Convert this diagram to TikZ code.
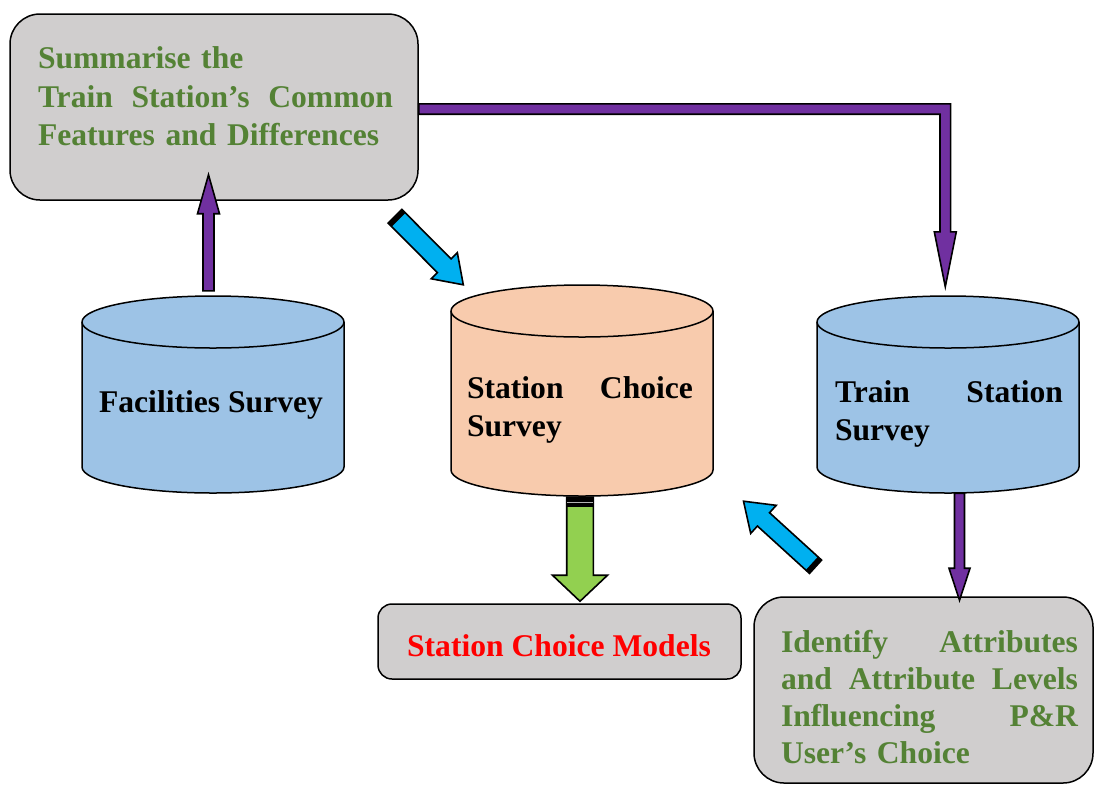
\documentclass[tikz,border=0pt]{standalone}
\usepackage{fontspec}
\setmainfont{Liberation Serif}
\usetikzlibrary{calc}
\definecolor{boxgray}{HTML}{D0CECE}
\definecolor{txtgreen}{HTML}{548235}
\definecolor{cylblue}{HTML}{9DC3E6}
\definecolor{cylpeach}{HTML}{F8CBAD}
\definecolor{arrpurple}{HTML}{7030A0}
\definecolor{arrcyan}{HTML}{00B0F0}
\definecolor{arrgreen}{HTML}{92D050}
\tikzset{
  graybox/.style={draw=black, line width=1.5pt, fill=boxgray, inner sep=0pt},
  cylarea/.style={inner sep=0pt},
  cylline/.style={draw=black, line width=1.5pt},
  lbl/.style={font=\fontsize{31.6}{38.5}\selectfont\bfseries, inner sep=0pt},
  purplearrow/.style={draw=black, line width=1.6pt, fill=arrpurple, line join=miter},
  cyanarrow/.style={draw=black, line width=1.6pt, fill=arrcyan, line join=miter},
  greenarrow/.style={draw=black, line width=1.6pt, fill=arrgreen, line join=miter},
}
% block arrow: #1 from, #2 to, #3 shaft half width, #4 head half width, #5 head length, #6 style
\newcommand\blockarrow[6]{%
  \coordinate (ba-n) at ($(#2)!#5!(#1)$);
  \path[#6] ($(#1)!#3!90:(#2)$) -- ($(ba-n)!#3!90:(#2)$) -- ($(ba-n)!#4!90:(#2)$)
    -- (#2) -- ($(ba-n)!#4!-90:(#2)$) -- ($(ba-n)!#3!-90:(#2)$)
    -- ($(#1)!#3!-90:(#2)$) -- cycle;
}
% black cap at the tail: #1 from, #2 to, #3 half width, #4 length
\newcommand\arrowcap[4]{%
  \coordinate (cap-c) at ($(#1)!#4!(#2)$);
  \fill[black] ($(#1)!#3!90:(#2)$) -- ($(cap-c)!#3!90:(#2)$)
    -- ($(cap-c)!#3!-90:(#2)$) -- ($(#1)!#3!-90:(#2)$) -- cycle;
}
\begin{document}
\begin{tikzpicture}[x=1pt,y=-1pt]
\useasboundingbox (0,0) rectangle (1094,785);

% boxes
\node[graybox, rounded corners=30pt, minimum width=408pt, minimum height=186pt] (sum) at (214,107) {};
\node[graybox, rounded corners=14pt, minimum width=363pt, minimum height=75pt] (scm) at (559.5,641.5) {};
\node[graybox, rounded corners=30pt, minimum width=339pt, minimum height=186pt] (idn) at (923.5,690) {};

% cylinders (areas as nodes)
\node[cylarea, minimum width=262pt, minimum height=197pt] (fs) at (213,394.5) {};
\node[cylarea, minimum width=262pt, minimum height=211pt] (sc) at (582,390.5) {};
\node[cylarea, minimum width=262pt, minimum height=197pt] (ts) at (948,394.5) {};

% Facilities cylinder
\filldraw[cylline, fill=cylblue] (82,322) -- (82,467)
  arc[start angle=180, end angle=360, x radius=131pt, y radius=26pt] -- (344,322)
  arc[start angle=0, end angle=180, x radius=131pt, y radius=26pt] -- cycle;
\draw[cylline] (82,322) arc[start angle=180, end angle=360, x radius=131pt, y radius=26pt];
% Station choice cylinder
\filldraw[cylline, fill=cylpeach] (451,311) -- (451,470)
  arc[start angle=180, end angle=360, x radius=131pt, y radius=26pt] -- (713,311)
  arc[start angle=0, end angle=180, x radius=131pt, y radius=26pt] -- cycle;
\draw[cylline] (451,311) arc[start angle=180, end angle=360, x radius=131pt, y radius=26pt];
% Train station cylinder
\filldraw[cylline, fill=cylblue] (817,322) -- (817,467)
  arc[start angle=180, end angle=360, x radius=131pt, y radius=26pt] -- (1079,322)
  arc[start angle=0, end angle=180, x radius=131pt, y radius=26pt] -- cycle;
\draw[cylline] (817,322) arc[start angle=180, end angle=360, x radius=131pt, y radius=26pt];

% arrow end points
\coordinate (a1s) at ($(fs.north)+(-4.5,-5)$);
\coordinate (a1e) at ($(sum.south -| a1s)+(0,-26)$);
\coordinate (a2s) at ($(sum.east)+(0,2)$);
\coordinate (a2e) at ($(ts.north)+(-2.7,-9)$);
\coordinate (a2c) at (a2s -| a2e);
\coordinate (a3s) at ($(ts.south)+(11.5,0)$);
\coordinate (a3e) at ($(idn.north -| a3s)+(0,4)$);
\coordinate (a4s) at ($(sc.south)+(-2,1)$);
\coordinate (a4e) at ($(scm.north -| a4s)+(0,-2)$);
\coordinate (a5s) at ($(sum.south east)+(-23.8,15.5)$);
\coordinate (a5e) at ($(sc.north)+(-118.7,0)$);
\coordinate (a6s) at ($(idn.north west)+(62.3,-29.5)$);
\coordinate (a6e) at ($(sc.south east)+(30.3,5)$);

% purple arrows
\blockarrow{a1s}{a1e}{5.5pt}{11pt}{39pt}{purplearrow}
\path[purplearrow] ($(a2s)+(0,-5.2)$) -- ($(a2c)+(5.3,-5.2)$) -- ($(a2e)+(5.3,-55)$)
  -- ($(a2e)+(11,-55)$) -- (a2e) -- ($(a2e)+(-11,-55)$) -- ($(a2e)+(-5.3,-55)$)
  -- ($(a2c)+(-5.3,5.2)$) -- ($(a2s)+(0,5.2)$) -- cycle;
\blockarrow{a3s}{a3e}{5pt}{10.5pt}{32pt}{purplearrow}

% green arrow
\blockarrow{a4s}{a4e}{13.3pt}{27.5pt}{26pt}{greenarrow}
\arrowcap{a4s}{a4e}{13.3pt}{10pt}
\draw[white!70!black, line width=0.8pt] ($(a4s)!5pt!(a4e)!13pt!90:(a4e)$) -- ($(a4s)!5pt!(a4e)!13pt!-90:(a4e)$);

% cyan arrows
\blockarrow{a5s}{a5e}{9.7pt}{18.5pt}{27pt}{cyanarrow}
\arrowcap{a5s}{a5e}{9.7pt}{5pt}
\blockarrow{a6s}{a6e}{9pt}{19pt}{27pt}{cyanarrow}
\arrowcap{a6s}{a6e}{9pt}{5pt}

% texts
\node[lbl, text=txtgreen, text width=355pt, align=left] (sumtxt) at (215.5,96.5)
  {Summarise the\\Train\hfill Station’s\hfill Common\\Features and Differences};
\node[lbl] (fstxt) at (211,405) {Facilities Survey};
\node[lbl, text width=226pt, align=left] (sctxt) at (580,410) {Station\hfill Choice\\Survey};
\node[lbl, text width=228pt, align=left] (tstxt) at (949,414) {Train\hfill Station\\Survey};
\node[lbl, text=red] (scmtxt) at (559,646) {Station Choice Models};
\node[lbl, text=txtgreen, text width=297pt, align=left,
      font=\fontsize{31.6}{37.3}\selectfont\bfseries] (idntxt) at (929.5,697)
  {Identify\hfill Attributes\\and\hfill Attribute\hfill Levels\\Influencing\hfill P\&R\\User’s Choice};
\end{tikzpicture}
\end{document}
